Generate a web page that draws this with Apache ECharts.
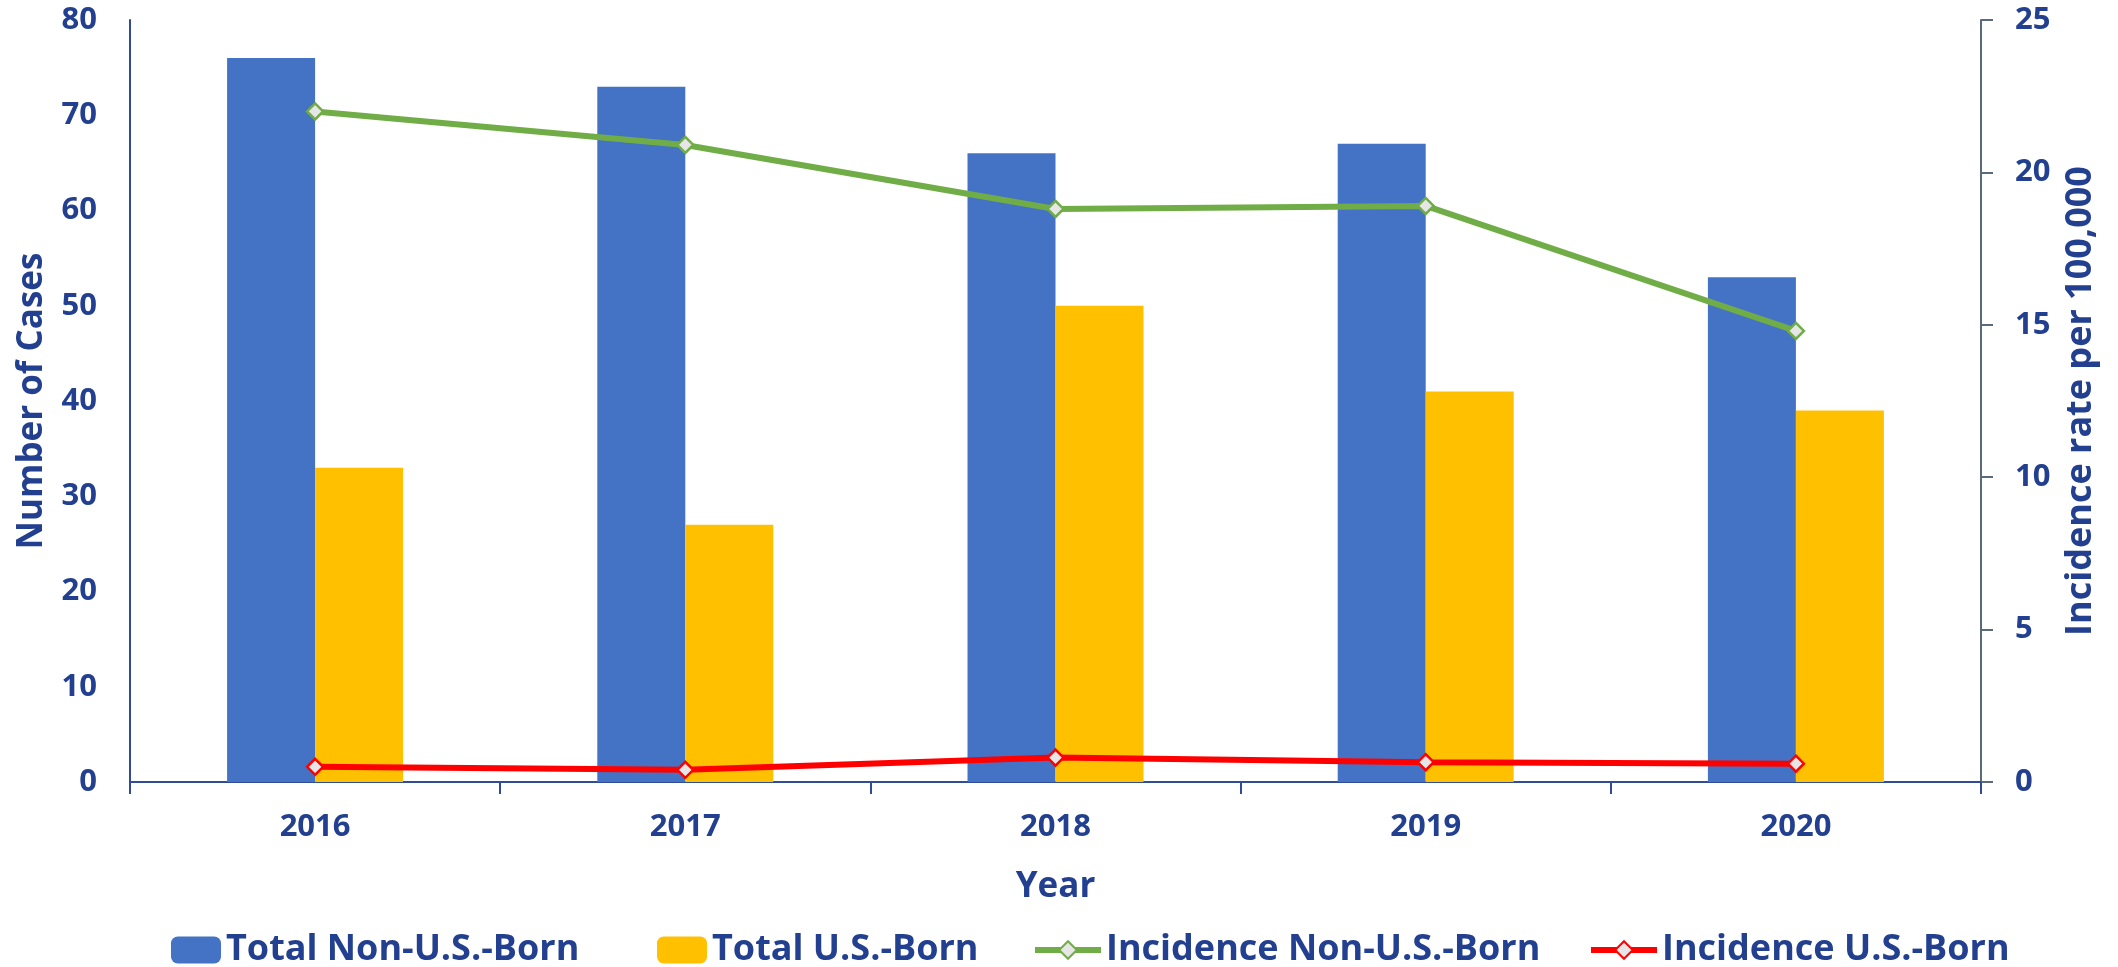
<!DOCTYPE html>
<html>
<head>
<meta charset="utf-8">
<script src="https://cdn.jsdelivr.net/npm/echarts@6/dist/echarts.min.js"></script>
<style>
  html, body { margin: 0; padding: 0; background: #fff; }
  #chart { width: 2118px; height: 967px; }
</style>
</head>
<body>
<div id="chart"></div>
<script>
const years = ['2016', '2017', '2018', '2019', '2020']
const totalNonUSBorn = [76, 73, 66, 67, 53]
const totalUSBorn = [33, 27, 50, 41, 39]
const incidenceNonUSBorn = [22.0, 20.9, 18.8, 18.9, 14.8]
const incidenceUSBorn = [0.5, 0.4, 0.8, 0.65, 0.6]

const textColor = '#22408F'
const fontFamily = '"Open Sans", "Noto Sans", sans-serif'

const chart = echarts.init(document.getElementById('chart'))

// one legend per item so each can sit where it does in the original
function legendAt(name, left, w, h, lineColor) {
  const lg = {
    data: [name],
    left: left,
    top: 927,
    itemWidth: w,
    itemHeight: h,
    itemGap: 8,
    textStyle: { color: textColor, fontSize: 36, fontWeight: 'bold', fontFamily: fontFamily }
  }
  if (lineColor) {
    lg.lineStyle = { color: lineColor, width: 6 }
  }
  return lg
}

chart.setOption({
  backgroundColor: '#fff',
  animation: false,
  grid: { left: 130, right: 137, top: 20, bottom: 185 },
  legend: [
    legendAt('Total Non-U.S.-Born', 166, 50, 27),
    legendAt('Total U.S.-Born', 652, 50, 27),
    legendAt('Incidence Non-U.S.-Born', 1027, 66, 22, '#70AD47'),
    legendAt('Incidence U.S.-Born', 1583, 66, 22, '#FF0000')
  ],
  xAxis: {
    type: 'category',
    data: years,
    name: 'Year',
    nameLocation: 'middle',
    nameGap: 88,
    nameTextStyle: { color: textColor, fontSize: 35, fontWeight: 'bold', fontFamily: fontFamily },
    axisLine: { lineStyle: { color: '#2F4B9A', width: 2 } },
    axisTick: { show: true, length: 12, lineStyle: { color: '#2F4B9A', width: 2 } },
    axisLabel: { color: textColor, fontSize: 31, fontWeight: 'bold', fontFamily: fontFamily, margin: 30 }
  },
  yAxis: [
    {
      type: 'value',
      min: 0,
      max: 80,
      interval: 10,
      name: 'Number of Cases',
      nameLocation: 'middle',
      nameRotate: 90,
      nameGap: 80,
      nameTextStyle: { color: textColor, fontSize: 35, fontWeight: 'bold', fontFamily: fontFamily },
      splitLine: { show: false },
      axisLine: { show: true, lineStyle: { color: '#2F4B9A', width: 2 } },
      axisTick: { show: false },
      axisLabel: { color: textColor, fontSize: 31, fontWeight: 'bold', fontFamily: fontFamily, margin: 33 }
    },
    {
      type: 'value',
      min: 0,
      max: 25,
      interval: 5,
      position: 'right',
      name: 'Incidence rate per 100,000',
      nameLocation: 'middle',
      nameRotate: 90,
      nameGap: 82,
      nameTextStyle: { color: textColor, fontSize: 36, fontWeight: 'bold', fontFamily: fontFamily },
      splitLine: { show: false },
      axisLine: { show: true, lineStyle: { color: '#5B6A7B', width: 2 } },
      axisTick: { show: true, length: 12, lineStyle: { color: '#5B6A7B', width: 2 } },
      axisLabel: { color: textColor, fontSize: 31, fontWeight: 'bold', fontFamily: fontFamily, margin: 34 }
    }
  ],
  series: [
    {
      name: 'Total Non-U.S.-Born',
      type: 'bar',
      data: totalNonUSBorn,
      barWidth: 88,
      barGap: '0%',
      itemStyle: { color: '#4472C4' }
    },
    {
      name: 'Total U.S.-Born',
      type: 'bar',
      data: totalUSBorn,
      barWidth: 88,
      barGap: '0%',
      itemStyle: { color: '#FFC000' }
    },
    {
      name: 'Incidence Non-U.S.-Born',
      type: 'line',
      yAxisIndex: 1,
      data: incidenceNonUSBorn,
      symbol: 'diamond',
      symbolSize: 16,
      lineStyle: { color: '#70AD47', width: 6 },
      itemStyle: { color: '#E6E6E6', borderColor: '#70AD47', borderWidth: 2.5 }
    },
    {
      name: 'Incidence U.S.-Born',
      type: 'line',
      yAxisIndex: 1,
      data: incidenceUSBorn,
      symbol: 'diamond',
      symbolSize: 16,
      lineStyle: { color: '#FF0000', width: 6 },
      itemStyle: { color: '#E6E6E6', borderColor: '#FF0000', borderWidth: 2.5 }
    }
  ]
})
</script>
</body>
</html>
